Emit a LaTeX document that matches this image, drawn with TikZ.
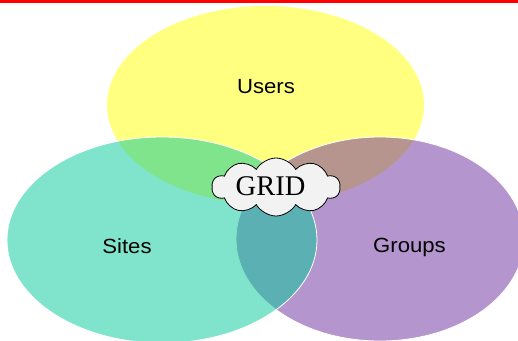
\documentclass[tikz,border=0pt]{standalone}
\usepackage{fontspec}
\setmainfont{Liberation Serif}
\newfontfamily\labelfont[FakeStretch=1.08]{Liberation Sans}
\usetikzlibrary{shapes.geometric,shapes.symbols}
\definecolor{usersyellow}{RGB}{255,255,128}
\definecolor{sitesteal}{RGB}{1,203,153}
\definecolor{groupspurple}{RGB}{109,45,157}
\definecolor{cloudgray}{RGB}{242,242,242}
\tikzset{
  setshape/.style={ellipse, inner sep=0pt, outer sep=0pt, draw=white, line width=0.8pt},
  setlabel/.style={anchor=base, inner sep=0pt, font=\labelfont\fontsize{20.5}{24}\selectfont, text=black},
  gridcloud/.style={cloud, cloud puffs=10, cloud puff arc=120, aspect=2.2, draw=black, line width=0.8pt, fill=cloudgray, inner sep=0pt, minimum width=128pt, minimum height=58pt},
}
\begin{document}
\begin{tikzpicture}[x=1pt,y=-1pt]
\fill[white] (0,0) rectangle (518,340);
\useasboundingbox (0,0) rectangle (518,340);
\node[setshape, fill=usersyellow, draw=none, minimum width=317pt, minimum height=198pt] (users) at (265.5,105) {};
\node[setshape, fill=groupspurple, fill opacity=0.5, minimum width=288pt, minimum height=204pt] (groups) at (380,239) {};
\node[setshape, fill=sitesteal, fill opacity=0.5, minimum width=310pt, minimum height=206pt] (sites) at (162,240) {};
\node[gridcloud] (grid) at (276,187) {};
\node[anchor=base, inner sep=0pt, font=\fontsize{28.5}{30}\selectfont] (gridtext) at (270.5,195) {GRID};
\node[setlabel] (userstext) at (266,93) {Users};
\node[setlabel] (sitestext) at (127,253) {Sites};
\node[setlabel] (groupstext) at (409.5,252) {Groups};
\fill[red] (0,0) rectangle (518,3);
\end{tikzpicture}
\end{document}
